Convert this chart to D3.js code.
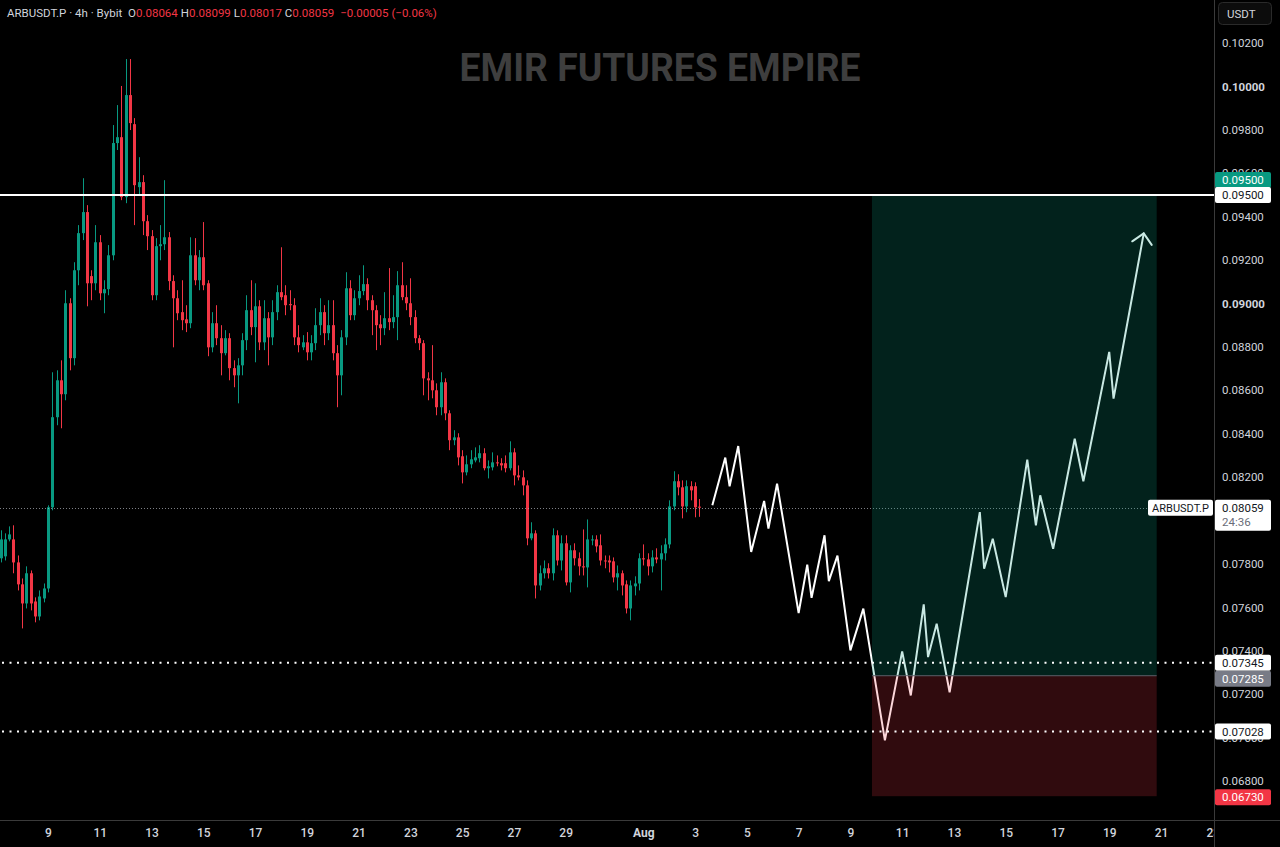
<!DOCTYPE html>
<html>
<head>
<meta charset="utf-8">
<script src="https://cdn.jsdelivr.net/npm/d3@7/dist/d3.min.js"></script>
<style>
    html, body { margin: 0; padding: 0; background: #000; overflow: hidden; }
    svg { display: block; font-family: Roboto, "Noto Sans", sans-serif; }
</style>
</head>
<body>
<svg id="chart" width="1280" height="847"></svg>
<script>
// 4h candles, first visible bar opens 2025-07-07 04:00
const firstBar = '2025-07-07T04:00';
const barHours = 4;

const opens = [
    0.07826, 0.07835, 0.07913, 0.07913, 0.07807, 0.07706, 0.07618, 0.07757, 0.07627, 0.07558,
    0.07641, 0.07687, 0.08061, 0.08476, 0.08646, 0.08582, 0.09001, 0.08748, 0.09153, 0.09324,
    0.09421, 0.09126, 0.09093, 0.09282, 0.09047, 0.09066, 0.09222, 0.09739, 0.09766, 0.09490,
    0.09960, 0.09826, 0.09536, 0.09559, 0.09379, 0.09310, 0.09038, 0.09264, 0.09273, 0.09305,
    0.09103, 0.09024, 0.08960, 0.08927, 0.08909, 0.09222, 0.09107, 0.09213, 0.09093, 0.08798,
    0.08909, 0.08840, 0.08771, 0.08840, 0.08702, 0.08669, 0.08715, 0.08831, 0.08969, 0.08891,
    0.08987, 0.08821, 0.08932, 0.08844, 0.08960, 0.09052, 0.09038, 0.08997, 0.08992, 0.08844,
    0.08798, 0.08821, 0.08775, 0.08817, 0.08900, 0.08960, 0.08863, 0.08900, 0.08771, 0.08669,
    0.08844, 0.09070, 0.08946, 0.09024, 0.09057, 0.09089, 0.09015, 0.08969, 0.08904, 0.08886,
    0.08932, 0.08914, 0.08937, 0.09084, 0.09029, 0.09001, 0.08937, 0.08840, 0.08817, 0.08655,
    0.08646, 0.08600, 0.08522, 0.08637, 0.08494, 0.08370, 0.08383, 0.08296, 0.08222, 0.08259,
    0.08277, 0.08287, 0.08310, 0.08241, 0.08245, 0.08268, 0.08264, 0.08264, 0.08241, 0.08314,
    0.08208, 0.08199, 0.08162, 0.07918, 0.07941, 0.07701, 0.07757, 0.07780, 0.07757, 0.07932,
    0.07816, 0.07895, 0.07715, 0.07863, 0.07826, 0.07789, 0.07784, 0.07909, 0.07913, 0.07886,
    0.07816, 0.07816, 0.07812, 0.07738, 0.07757, 0.07706, 0.07595, 0.07697, 0.07710, 0.07826,
    0.07821, 0.07789, 0.07830, 0.07821, 0.07849, 0.07890, 0.08065, 0.08181, 0.08153, 0.08065,
    0.08158, 0.08158, 0.08064
];
const highs = [
    0.07955, 0.07941, 0.07973, 0.07978, 0.07839, 0.07733, 0.07789, 0.07770, 0.07646, 0.07678,
    0.07710, 0.08070, 0.08683, 0.08692, 0.08738, 0.09061, 0.09024, 0.09190, 0.09361, 0.09577,
    0.09453, 0.09153, 0.09361, 0.09315, 0.09107, 0.09269, 0.09822, 0.09914, 0.10002, 0.10126,
    0.10126, 0.09854, 0.09674, 0.09591, 0.09407, 0.09338, 0.09301, 0.09361, 0.09568, 0.09329,
    0.09130, 0.09061, 0.09107, 0.08992, 0.09305, 0.09301, 0.09246, 0.09375, 0.09107, 0.08960,
    0.08992, 0.08900, 0.08877, 0.08863, 0.08738, 0.08748, 0.08863, 0.09038, 0.09107, 0.09093,
    0.09015, 0.09015, 0.08960, 0.09015, 0.09084, 0.09259, 0.09084, 0.09061, 0.09024, 0.08900,
    0.08854, 0.08868, 0.08854, 0.08978, 0.09024, 0.08992, 0.09015, 0.09015, 0.08808, 0.08877,
    0.09144, 0.09107, 0.09061, 0.09130, 0.09176, 0.09116, 0.09038, 0.08992, 0.08946, 0.09052,
    0.09163, 0.09038, 0.09149, 0.09190, 0.09084, 0.09116, 0.08969, 0.08854, 0.08831, 0.08683,
    0.08808, 0.08632, 0.08683, 0.08655, 0.08508, 0.08416, 0.08402, 0.08324, 0.08300, 0.08324,
    0.08337, 0.08347, 0.08333, 0.08277, 0.08314, 0.08300, 0.08287, 0.08300, 0.08365, 0.08333,
    0.08254, 0.08231, 0.08185, 0.07992, 0.07955, 0.07793, 0.07816, 0.07803, 0.07964, 0.07955,
    0.07932, 0.07932, 0.07886, 0.07895, 0.07853, 0.07959, 0.08005, 0.07932, 0.07932, 0.07936,
    0.07839, 0.07839, 0.07830, 0.07793, 0.07770, 0.07724, 0.07724, 0.07743, 0.07849, 0.07890,
    0.07849, 0.07863, 0.07872, 0.07886, 0.07918, 0.08093, 0.08227, 0.08213, 0.08185, 0.08185,
    0.08181, 0.08176, 0.08099
];
const lows = [
    0.07807, 0.07816, 0.07904, 0.07757, 0.07678, 0.07503, 0.07595, 0.07586, 0.07531, 0.07540,
    0.07623, 0.07669, 0.08047, 0.08439, 0.08425, 0.08554, 0.08692, 0.08715, 0.09084, 0.09292,
    0.08987, 0.09015, 0.09061, 0.09015, 0.08955, 0.09038, 0.09199, 0.09707, 0.09476, 0.09462,
    0.09799, 0.09361, 0.09499, 0.09315, 0.09246, 0.09015, 0.09015, 0.09199, 0.09246, 0.09061,
    0.08798, 0.08923, 0.08877, 0.08868, 0.08886, 0.09084, 0.09061, 0.09061, 0.08757, 0.08775,
    0.08808, 0.08669, 0.08761, 0.08646, 0.08614, 0.08540, 0.08669, 0.08785, 0.08854, 0.08729,
    0.08785, 0.08785, 0.08715, 0.08808, 0.08923, 0.09015, 0.08946, 0.08969, 0.08808, 0.08775,
    0.08785, 0.08738, 0.08738, 0.08785, 0.08854, 0.08808, 0.08831, 0.08738, 0.08522, 0.08577,
    0.08808, 0.08923, 0.08923, 0.08992, 0.09038, 0.08969, 0.08854, 0.08785, 0.08808, 0.08854,
    0.08877, 0.08886, 0.08831, 0.09015, 0.08969, 0.08900, 0.08817, 0.08785, 0.08577, 0.08554,
    0.08563, 0.08485, 0.08485, 0.08462, 0.08324, 0.08347, 0.08254, 0.08171, 0.08208, 0.08241,
    0.08268, 0.08268, 0.08231, 0.08194, 0.08231, 0.08250, 0.08231, 0.08222, 0.08231, 0.08162,
    0.08185, 0.08116, 0.07886, 0.07909, 0.07641, 0.07678, 0.07733, 0.07733, 0.07724, 0.07793,
    0.07770, 0.07701, 0.07669, 0.07793, 0.07747, 0.07747, 0.07692, 0.07886, 0.07853, 0.07793,
    0.07780, 0.07761, 0.07715, 0.07678, 0.07655, 0.07572, 0.07540, 0.07655, 0.07678, 0.07793,
    0.07747, 0.07761, 0.07803, 0.07678, 0.07816, 0.07872, 0.08047, 0.08116, 0.08010, 0.08038,
    0.08093, 0.08015, 0.08017
];
const closes = [
    0.07913, 0.07913, 0.07936, 0.07807, 0.07706, 0.07618, 0.07757, 0.07618, 0.07558, 0.07650,
    0.07687, 0.08061, 0.08476, 0.08646, 0.08582, 0.09001, 0.08748, 0.09153, 0.09324, 0.09421,
    0.09093, 0.09093, 0.09282, 0.09047, 0.09066, 0.09222, 0.09739, 0.09766, 0.09490, 0.09960,
    0.09831, 0.09545, 0.09559, 0.09379, 0.09310, 0.09038, 0.09264, 0.09273, 0.09305, 0.09103,
    0.09024, 0.08955, 0.08923, 0.08909, 0.09222, 0.09107, 0.09213, 0.09084, 0.08798, 0.08909,
    0.08840, 0.08771, 0.08840, 0.08702, 0.08669, 0.08715, 0.08831, 0.08969, 0.08891, 0.08987,
    0.08821, 0.08932, 0.08844, 0.08960, 0.09052, 0.09029, 0.08992, 0.08992, 0.08844, 0.08808,
    0.08821, 0.08775, 0.08817, 0.08900, 0.08960, 0.08863, 0.08900, 0.08771, 0.08669, 0.08844,
    0.09070, 0.08946, 0.09024, 0.09057, 0.09089, 0.09015, 0.08969, 0.08900, 0.08886, 0.08932,
    0.08914, 0.08937, 0.09084, 0.09029, 0.09001, 0.08937, 0.08840, 0.08817, 0.08655, 0.08646,
    0.08600, 0.08522, 0.08637, 0.08494, 0.08370, 0.08383, 0.08291, 0.08222, 0.08259, 0.08282,
    0.08291, 0.08310, 0.08241, 0.08250, 0.08268, 0.08264, 0.08254, 0.08241, 0.08314, 0.08208,
    0.08199, 0.08162, 0.07918, 0.07941, 0.07701, 0.07757, 0.07780, 0.07757, 0.07932, 0.07816,
    0.07895, 0.07715, 0.07863, 0.07826, 0.07789, 0.07784, 0.07913, 0.07913, 0.07881, 0.07816,
    0.07812, 0.07807, 0.07738, 0.07757, 0.07701, 0.07595, 0.07701, 0.07710, 0.07826, 0.07821,
    0.07789, 0.07830, 0.07821, 0.07849, 0.07890, 0.08065, 0.08181, 0.08153, 0.08065, 0.08158,
    0.08139, 0.08061, 0.08059
];

// hand drawn projection (zigzag with arrow)
const projTimes = [
    '2025-08-03T16:00', '2025-08-04T04:00', '2025-08-04T08:00', '2025-08-04T16:00', '2025-08-05T04:00',
    '2025-08-05T16:00', '2025-08-05T20:00', '2025-08-06T04:00', '2025-08-07T00:00', '2025-08-07T08:00',
    '2025-08-07T12:00', '2025-08-08T00:00', '2025-08-08T04:00', '2025-08-08T12:00', '2025-08-09T00:00',
    '2025-08-09T12:00', '2025-08-10T08:00', '2025-08-11T00:00', '2025-08-11T08:00', '2025-08-11T20:00',
    '2025-08-12T00:00', '2025-08-12T08:00', '2025-08-12T20:00', '2025-08-14T00:00', '2025-08-14T04:00',
    '2025-08-14T12:00', '2025-08-15T00:00', '2025-08-15T20:00', '2025-08-16T04:00', '2025-08-16T08:00',
    '2025-08-16T20:00', '2025-08-17T16:00', '2025-08-18T00:00', '2025-08-19T00:00', '2025-08-19T04:00',
    '2025-08-20T08:00'
];
const projPrices = [
    0.08070, 0.08290, 0.08158, 0.08343, 0.07855, 0.08090, 0.07963, 0.08170, 0.07574, 0.07797,
    0.07644, 0.07932, 0.07721, 0.07838, 0.07402, 0.07594, 0.06987, 0.07397, 0.07194, 0.07614,
    0.07371, 0.07525, 0.07209, 0.08039, 0.07778, 0.07916, 0.07647, 0.08281, 0.07978, 0.08116,
    0.07870, 0.08377, 0.08181, 0.08777, 0.08562, 0.09323
];

// long position tool
const posStart = '2025-08-09T20:00';
const posEnd = '2025-08-20T20:00';
const entryPrice = 0.07285;
const targetPrice = 0.09500;
const stopPrice = 0.06730;

const resistance = 0.09500;
const dottedLevels = [0.07345, 0.07028];
const lastPrice = 0.08059;

// 0.08000 sits fully under the last price tag, so it is left out
const priceTicks = [0.068, 0.070, 0.072, 0.074, 0.076, 0.078, 0.082, 0.084,
    0.086, 0.088, 0.090, 0.092, 0.094, 0.096, 0.098, 0.100, 0.102];
const dateTicks = ['2025-07-09', '2025-07-11', '2025-07-13', '2025-07-15', '2025-07-17', '2025-07-19',
    '2025-07-21', '2025-07-23', '2025-07-25', '2025-07-27', '2025-07-29', '2025-08-01', '2025-08-03',
    '2025-08-05', '2025-08-07', '2025-08-09', '2025-08-11', '2025-08-13', '2025-08-15', '2025-08-17',
    '2025-08-19', '2025-08-21', '2025-08-23'];

const UP = '#089981';
const DOWN = '#f23645';
const TEXT = '#d1d4dc';
const GRID = '#3a3a3a';

const W = 1280, H = 847;
const plotW = 1214, plotH = 820;

const parseTime = d3.timeParse('%Y-%m-%dT%H:%M');
const parseDay = d3.timeParse('%Y-%m-%d');

const x = d3.scaleTime()
    .domain([parseDay('2025-07-09'), parseDay('2025-08-21')])
    .range([48, 1161]);
const y = d3.scaleLinear()
    .domain([0.068, 0.102])
    .range([781, 43]);

const t0 = parseTime(firstBar);
const candles = opens.map((o, i) => ({
    t: d3.timeHour.offset(t0, i * barHours),
    o, h: highs[i], l: lows[i], c: closes[i]
}));

const svg = d3.select('#chart');
svg.append('rect').attr('width', W).attr('height', H).attr('fill', '#000');

const defs = svg.append('defs');
defs.append('clipPath').attr('id', 'plot')
    .append('rect').attr('x', 0).attr('y', 0).attr('width', plotW).attr('height', plotH);
defs.append('clipPath').attr('id', 'timeClip')
    .append('rect').attr('x', 0).attr('y', plotH).attr('width', plotW).attr('height', H - plotH);

const plot = svg.append('g').attr('clip-path', 'url(#plot)');

// watermark
plot.append('text')
    .attr('x', 660).attr('y', 81)
    .attr('text-anchor', 'middle')
    .attr('font-size', 38)
    .attr('font-weight', 700)
    .attr('fill', '#3e3e3e')
    .attr('textLength', 401)
    .attr('lengthAdjust', 'spacingAndGlyphs')
    .text('EMIR FUTURES EMPIRE');

// candles
const bodyW = 3;
const cg = plot.append('g');
cg.selectAll('line')
    .data(candles)
    .join('line')
    .attr('x1', d => Math.round(x(d.t)) + 0.5)
    .attr('x2', d => Math.round(x(d.t)) + 0.5)
    .attr('y1', d => y(d.h))
    .attr('y2', d => y(d.l))
    .attr('stroke', d => d.c >= d.o ? UP : DOWN)
    .attr('stroke-width', 1);
cg.selectAll('rect')
    .data(candles)
    .join('rect')
    .attr('x', d => Math.round(x(d.t)) + 0.5 - bodyW / 2)
    .attr('width', bodyW)
    .attr('y', d => y(Math.max(d.o, d.c)))
    .attr('height', d => Math.max(1, Math.abs(y(d.o) - y(d.c))))
    .attr('fill', d => d.c >= d.o ? UP : DOWN);

// last price line
plot.append('line')
    .attr('x1', 0).attr('x2', plotW)
    .attr('y1', Math.round(y(lastPrice)) + 0.5).attr('y2', Math.round(y(lastPrice)) + 0.5)
    .attr('stroke', '#b2b5be').attr('stroke-opacity', 0.7)
    .attr('stroke-width', 1).attr('stroke-dasharray', '1 2');

// projection path
const proj = projTimes.map((t, i) => [x(parseTime(t)), y(projPrices[i])]);
plot.append('path')
    .attr('d', d3.line()(proj))
    .attr('fill', 'none')
    .attr('stroke', '#ffffff')
    .attr('stroke-width', 2)
    .attr('stroke-linejoin', 'miter');

// arrow head at the end of the path
const tip = proj[proj.length - 1], prev = proj[proj.length - 2];
const ang = Math.atan2(prev[1] - tip[1], prev[0] - tip[0]);
const headLen = 14;
[Math.PI / 4, -Math.PI / 4].forEach(a => {
    plot.append('line')
        .attr('x1', tip[0]).attr('y1', tip[1])
        .attr('x2', tip[0] + headLen * Math.cos(ang + a))
        .attr('y2', tip[1] + headLen * Math.sin(ang + a))
        .attr('stroke', '#ffffff').attr('stroke-width', 2)
        .attr('stroke-linecap', 'round');
});

// position zones (drawn over the path, translucent)
const px0 = x(parseTime(posStart)), px1 = x(parseTime(posEnd));
plot.append('rect')
    .attr('x', px0).attr('width', px1 - px0)
    .attr('y', y(targetPrice)).attr('height', y(entryPrice) - y(targetPrice))
    .attr('fill', UP).attr('fill-opacity', 0.22);
plot.append('rect')
    .attr('x', px0).attr('width', px1 - px0)
    .attr('y', y(entryPrice)).attr('height', y(stopPrice) - y(entryPrice))
    .attr('fill', DOWN).attr('fill-opacity', 0.2);
plot.append('line')
    .attr('x1', px0).attr('x2', px1)
    .attr('y1', y(entryPrice)).attr('y2', y(entryPrice))
    .attr('stroke', '#5d606b').attr('stroke-width', 1);

// levels
plot.append('line')
    .attr('x1', 0).attr('x2', plotW)
    .attr('y1', y(resistance)).attr('y2', y(resistance))
    .attr('stroke', '#ffffff').attr('stroke-width', 2);
plot.selectAll('.dotted')
    .data(dottedLevels)
    .join('line')
    .attr('class', 'dotted')
    .attr('x1', 2).attr('x2', plotW)
    .attr('y1', d => y(d)).attr('y2', d => y(d))
    .attr('stroke', '#ffffff').attr('stroke-width', 2)
    .attr('stroke-dasharray', '2 5.5');

// axes lines
svg.append('line').attr('x1', plotW + 0.5).attr('x2', plotW + 0.5).attr('y1', 0).attr('y2', H)
    .attr('stroke', GRID);
svg.append('line').attr('x1', 0).attr('x2', W).attr('y1', plotH + 0.5).attr('y2', plotH + 0.5)
    .attr('stroke', GRID);

// price axis
const yAxis = svg.append('g')
    .attr('transform', `translate(${plotW},0)`)
    .call(d3.axisRight(y).tickValues(priceTicks).tickFormat(d3.format('.5f')).tickSize(0).tickPadding(8));
yAxis.select('.domain').remove();
yAxis.selectAll('text')
    .attr('fill', TEXT)
    .attr('font-size', 11.5)
    .attr('font-family', 'Roboto, sans-serif')
    .attr('font-weight', d => (Math.abs(d - 0.1) < 1e-9 || Math.abs(d - 0.09) < 1e-9) ? 700 : 400);

// time axis
const xAxis = svg.append('g').attr('clip-path', 'url(#timeClip)')
    .append('g')
    .attr('transform', `translate(0,${plotH})`)
    .call(d3.axisBottom(x)
        .tickValues(dateTicks.map(parseDay))
        .tickFormat(d => d.getDate() === 1 ? d3.timeFormat('%b')(d) : d.getDate())
        .tickSize(0).tickPadding(8));
xAxis.select('.domain').remove();
xAxis.selectAll('text')
    .attr('fill', TEXT)
    .attr('font-size', 12)
    .attr('font-weight', d => d.getDate() === 1 ? 700 : 500)
    .attr('font-family', 'Roboto, sans-serif');

// price labels on the axis
function priceTag(cy, value, bg, fg, extra) {
    const g = svg.append('g');
    const h = extra ? 31 : 16;
    g.append('rect')
        .attr('x', plotW + 1).attr('y', cy - 8)
        .attr('width', 56).attr('height', h)
        .attr('rx', 2)
        .attr('fill', bg);
    g.append('text')
        .attr('x', plotW + 8).attr('y', cy + 4)
        .attr('font-size', 11.5)
        .attr('fill', fg)
        .text(d3.format('.5f')(value));
    if (extra) {
        g.append('text')
            .attr('x', plotW + 8).attr('y', cy + 18)
            .attr('font-size', 11.5)
            .attr('fill', '#6a6d78')
            .text(extra);
    }
}
priceTag(y(targetPrice) - 15, targetPrice, UP, '#ffffff');
priceTag(y(resistance), resistance, '#ffffff', '#131722');
priceTag(y(lastPrice), lastPrice, '#ffffff', '#131722', '24:36');
priceTag(y(dottedLevels[0]), dottedLevels[0], '#ffffff', '#131722');
priceTag(y(entryPrice) + 3, entryPrice, '#787b86', '#ffffff');
priceTag(y(dottedLevels[1]), dottedLevels[1], '#ffffff', '#131722');
priceTag(y(stopPrice) + 1, stopPrice, DOWN, '#ffffff');

// symbol tag next to last price
svg.append('rect')
    .attr('x', 1148).attr('y', y(lastPrice) - 8)
    .attr('width', 65).attr('height', 16).attr('rx', 2)
    .attr('fill', '#ffffff');
svg.append('text')
    .attr('x', 1180.5).attr('y', y(lastPrice) + 4)
    .attr('text-anchor', 'middle')
    .attr('font-size', 11)
    .attr('fill', '#131722')
    .text('ARBUSDT.P');

// currency button
svg.append('rect')
    .attr('x', 1218.5).attr('y', 2.5).attr('width', 53).attr('height', 22).attr('rx', 4)
    .attr('fill', '#0c0c0c').attr('stroke', '#2a2a2a');
svg.append('text')
    .attr('x', 1227).attr('y', 18)
    .attr('font-size', 11.5)
    .attr('fill', TEXT)
    .text('USDT');

// legend line
const last = candles[candles.length - 1];
const fmt = d3.format('.5f');
const legend = svg.append('text')
    .attr('x', 7).attr('y', 17)
    .attr('font-size', 11.5)
    .attr('fill', TEXT);
legend.append('tspan').text('ARBUSDT.P · 4h · Bybit ');
[['O', last.o], ['H', last.h], ['L', last.l], ['C', last.c]].forEach(([k, v]) => {
    legend.append('tspan').attr('dx', 3).attr('fill', TEXT).text(k);
    legend.append('tspan').attr('fill', DOWN).text(fmt(v));
});
const chg = last.c - last.o;
legend.append('tspan').attr('dx', 6).attr('fill', DOWN)
    .text(`${fmt(chg).replace('-', '−')} (${d3.format('.2f')(chg / last.o * 100).replace('-', '−')}%)`);
</script>
</body>
</html>
